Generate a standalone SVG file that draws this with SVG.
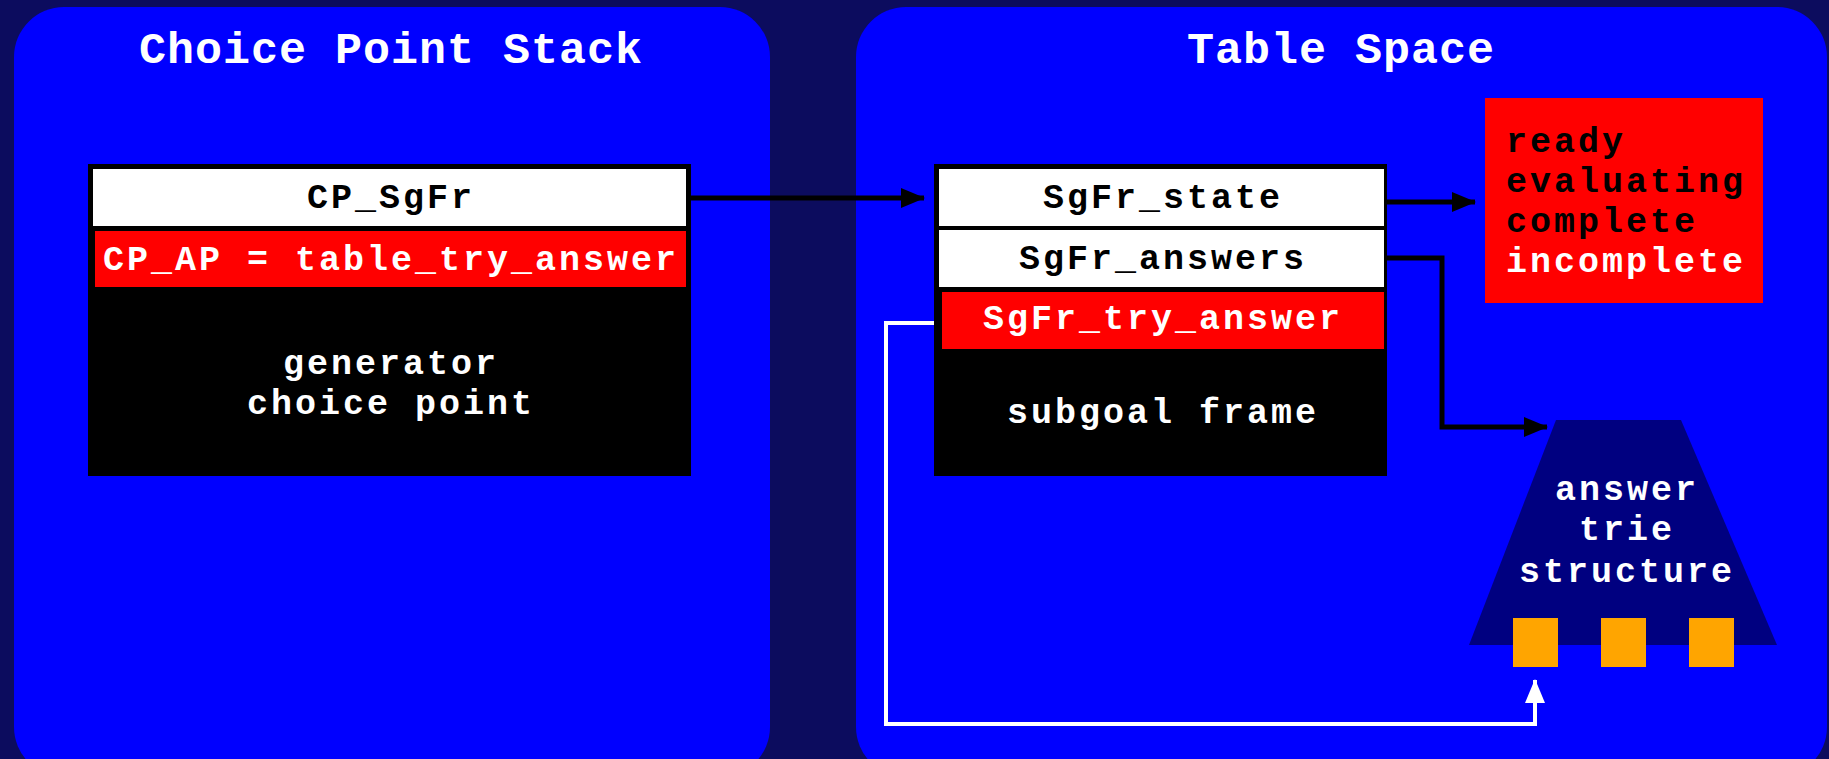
<svg xmlns="http://www.w3.org/2000/svg" width="1829" height="759" viewBox="0 0 1829 759">
<style>
text{font-family:"Liberation Mono","Courier New",monospace;font-weight:bold;font-size:35px;letter-spacing:3px}
.title{font-size:45px;letter-spacing:1px;fill:#fff;text-anchor:middle}
.blk{fill:#000}
.wht{fill:#fff}
.mid{text-anchor:middle}
.panel{fill:#0000ff}
</style>
<defs>
<marker id="ab" markerWidth="24" markerHeight="20" refX="23" refY="10" orient="auto" markerUnits="userSpaceOnUse"><path d="M0,0 L24,10 L0,20 Z" fill="#000"/></marker>
<marker id="aw" markerWidth="24" markerHeight="20" refX="23" refY="10" orient="auto" markerUnits="userSpaceOnUse"><path d="M0,0 L24,10 L0,20 Z" fill="#fff"/></marker>
</defs>
<rect width="1829" height="759" fill="#0c0c5e"/>
<g id="panel-cp">
<rect class="panel" x="14" y="7" width="756" height="770" rx="50" ry="50"/>
<text class="title" x="391" y="63">Choice Point Stack</text>
</g>
<g id="panel-ts">
<rect class="panel" x="856" y="7" width="971" height="770" rx="50" ry="50"/>
<text class="title" x="1341" y="63">Table Space</text>
</g>
<g id="cp-frame">
<rect x="88" y="164" width="603" height="312" fill="#000"/>
<rect x="93" y="169" width="593" height="57" fill="#fff"/>
<text class="blk mid" x="391" y="208">CP_SgFr</text>
<rect x="95" y="231" width="591" height="56" fill="#ff0000"/>
<text class="wht mid" x="391" y="270">CP_AP = table_try_answer</text>
<text class="wht mid" x="391" y="374">generator</text>
<text class="wht mid" x="391" y="414">choice point</text>
</g>
<g id="subgoal-frame">
<rect x="934" y="164" width="453" height="312" fill="#000"/>
<rect x="939" y="169" width="445" height="57" fill="#fff"/>
<text class="blk mid" x="1163" y="208">SgFr_state</text>
<rect x="939" y="230" width="445" height="57" fill="#fff"/>
<text class="blk mid" x="1163" y="269">SgFr_answers</text>
<rect x="942" y="292" width="442" height="57" fill="#ff0000"/>
<text class="wht mid" x="1163" y="329">SgFr_try_answer</text>
<text class="wht mid" x="1163" y="423">subgoal frame</text>
</g>
<g id="states">
<rect x="1485" y="98" width="278" height="205" fill="#ff0000"/>
<text class="blk" x="1506" y="152">ready</text>
<text class="blk" x="1506" y="192">evaluating</text>
<text class="blk" x="1506" y="232">complete</text>
<text class="wht" x="1506" y="272">incomplete</text>
</g>
<g id="answer-trie">
<polygon points="1556,420 1681,420 1777,645 1469,645" fill="#000080"/>
<text class="wht mid" x="1627" y="500">answer</text>
<text class="wht mid" x="1627" y="540">trie</text>
<text class="wht mid" x="1627" y="582">structure</text>
<rect x="1513" y="618" width="45" height="49" fill="#ffa500"/>
<rect x="1601" y="618" width="45" height="49" fill="#ffa500"/>
<rect x="1689" y="618" width="45" height="49" fill="#ffa500"/>
</g>
<g id="connectors" fill="none">
<path d="M691,198 H924" stroke="#000" stroke-width="5" marker-end="url(#ab)"/>
<path d="M1387,202 H1475" stroke="#000" stroke-width="5" marker-end="url(#ab)"/>
<path d="M1387,258 H1442 V427 H1547" stroke="#000" stroke-width="5" marker-end="url(#ab)"/>
<path d="M934,323 H886 V724 H1535 V680" stroke="#fff" stroke-width="4" marker-end="url(#aw)"/>
</g>
</svg>
